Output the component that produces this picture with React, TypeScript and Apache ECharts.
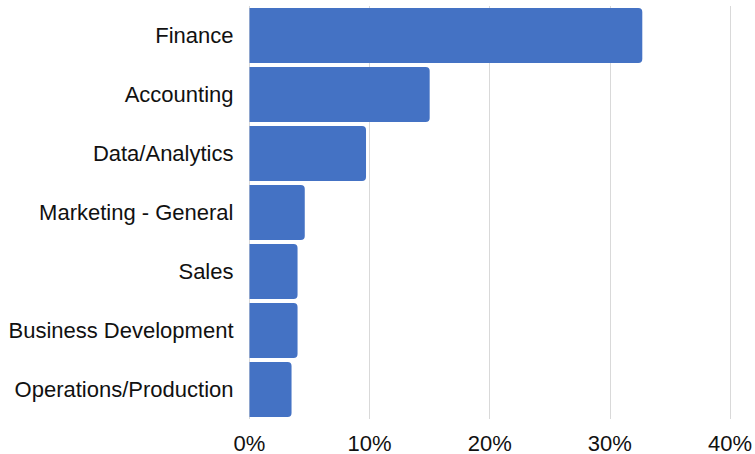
import React, { useEffect, useRef } from "react";
import * as echarts from "echarts";

const categories = [
  "Finance",
  "Accounting",
  "Data/Analytics",
  "Marketing - General",
  "Sales",
  "Business Development",
  "Operations/Production",
];
const values = [32.7, 15.0, 9.7, 4.6, 4.0, 4.0, 3.5];
const xTicks = [0, 10, 20, 30, 40];

export default function App() {
  const ref = useRef<HTMLDivElement>(null);
  useEffect(() => {
    if (!ref.current) return;
    const chart = echarts.init(ref.current, undefined, { renderer: "svg" });
    chart.setOption({
      animation: false,
      grid: { left: 249.5, right: 23, top: 6, bottom: 35, containLabel: false },
      xAxis: {
        type: "value",
        min: xTicks[0],
        max: xTicks[xTicks.length - 1],
        interval: 10,
        axisLine: { show: false },
        axisTick: { show: false },
        axisLabel: {
          formatter: (v: number) => v + "%",
          fontFamily: "Liberation Sans",
          fontSize: 22,
          color: "#111",
          margin: 13,
        },
        splitLine: { show: true, lineStyle: { color: "#d9d9d9", width: 1 } },
      },
      yAxis: {
        type: "category",
        data: categories,
        inverse: true,
        axisLine: { show: false },
        axisTick: { show: false },
        axisLabel: {
          fontFamily: "Liberation Sans",
          fontSize: 22,
          color: "#111",
          margin: 16,
        },
      },
      series: [
        {
          type: "bar",
          data: values,
          barCategoryGap: "6.8%",
          itemStyle: {
            color: "#4472C4",
            borderRadius: [0, 4, 4, 0],
          },
        },
      ],
    });
    return () => chart.dispose();
  }, []);
  return (
    <div
      ref={ref}
      style={{ position: "absolute", left: 0, top: 0, width: 755, height: 454 }}
    />
  );
}
